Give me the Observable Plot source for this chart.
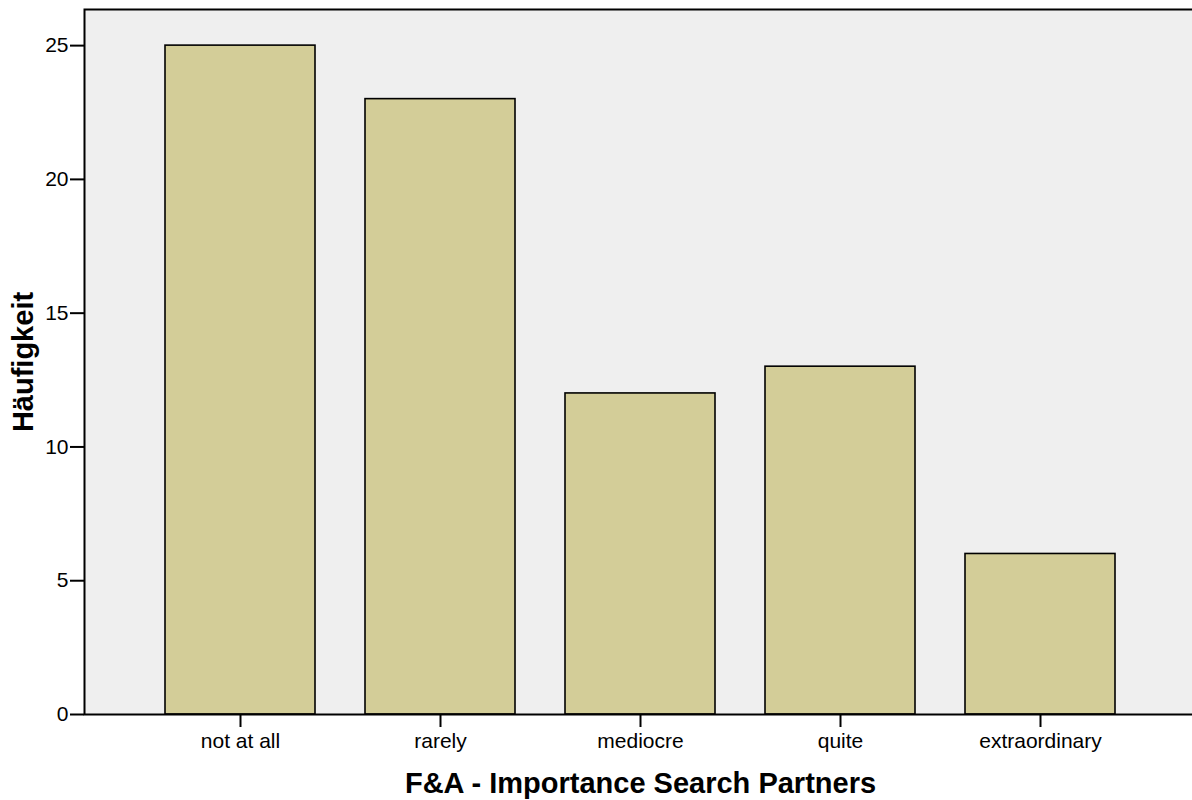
<!DOCTYPE html>
<html>
<head>
<meta charset="utf-8">
<script src="https://cdn.jsdelivr.net/npm/d3@7"></script>
<script src="https://cdn.jsdelivr.net/npm/@observablehq/plot@0.6"></script>
<style>
  html, body { margin: 0; padding: 0; background: #fff; }
  #chart svg { display: block; overflow: visible; }
  #chart [aria-label="x-axis tick label"], #chart [aria-label="y-axis tick label"] { font-size: 21px; }
  #chart [aria-label="x-axis label"], #chart [aria-label="y-axis label"] { font-weight: bold; font-size: 29px; }
</style>
</head>
<body>
<div id="chart"></div>
<script>
const categories = ["not at all", "rarely", "mediocre", "quite", "extraordinary"];
const counts = [25, 23, 12, 13, 6];
const yTicks = [0, 5, 10, 15, 20, 25];

const data = categories.map((c, i) => ({category: c, count: counts[i]}));

const chart = Plot.plot({
  width: 1192,
  height: 800,
  marginLeft: 84,
  marginRight: -4,
  marginTop: 9,
  marginBottom: 86,
  style: {fontFamily: "'Liberation Sans', Arial, sans-serif", fontSize: "21px", color: "#000", background: "#fff"},
  x: {domain: categories, paddingInner: 0.25, paddingOuter: 0.405, round: false, label: "F&A - Importance Search Partners"},
  y: {domain: [0, 26.35], label: "Häufigkeit"},
  marks: [
    Plot.frame({fill: "#efefef"}),
    Plot.barY(data, {x: "category", y: "count", fill: "#d3cd98", stroke: "#000", strokeWidth: 1.6}),
    Plot.frame({stroke: "#000", strokeWidth: 2}),
    Plot.axisX({tickSize: 13, tickPadding: 6, label: "F&A - Importance Search Partners", labelAnchor: "center", labelArrow: "none", labelOffset: 78, strokeWidth: 2}),
    Plot.axisY({ticks: yTicks, tickSize: 14, tickPadding: 2, label: "Häufigkeit", labelAnchor: "center", labelArrow: "none", labelOffset: 72, strokeWidth: 2})
  ]
});
document.getElementById("chart").appendChild(chart);
</script>
</body>
</html>
